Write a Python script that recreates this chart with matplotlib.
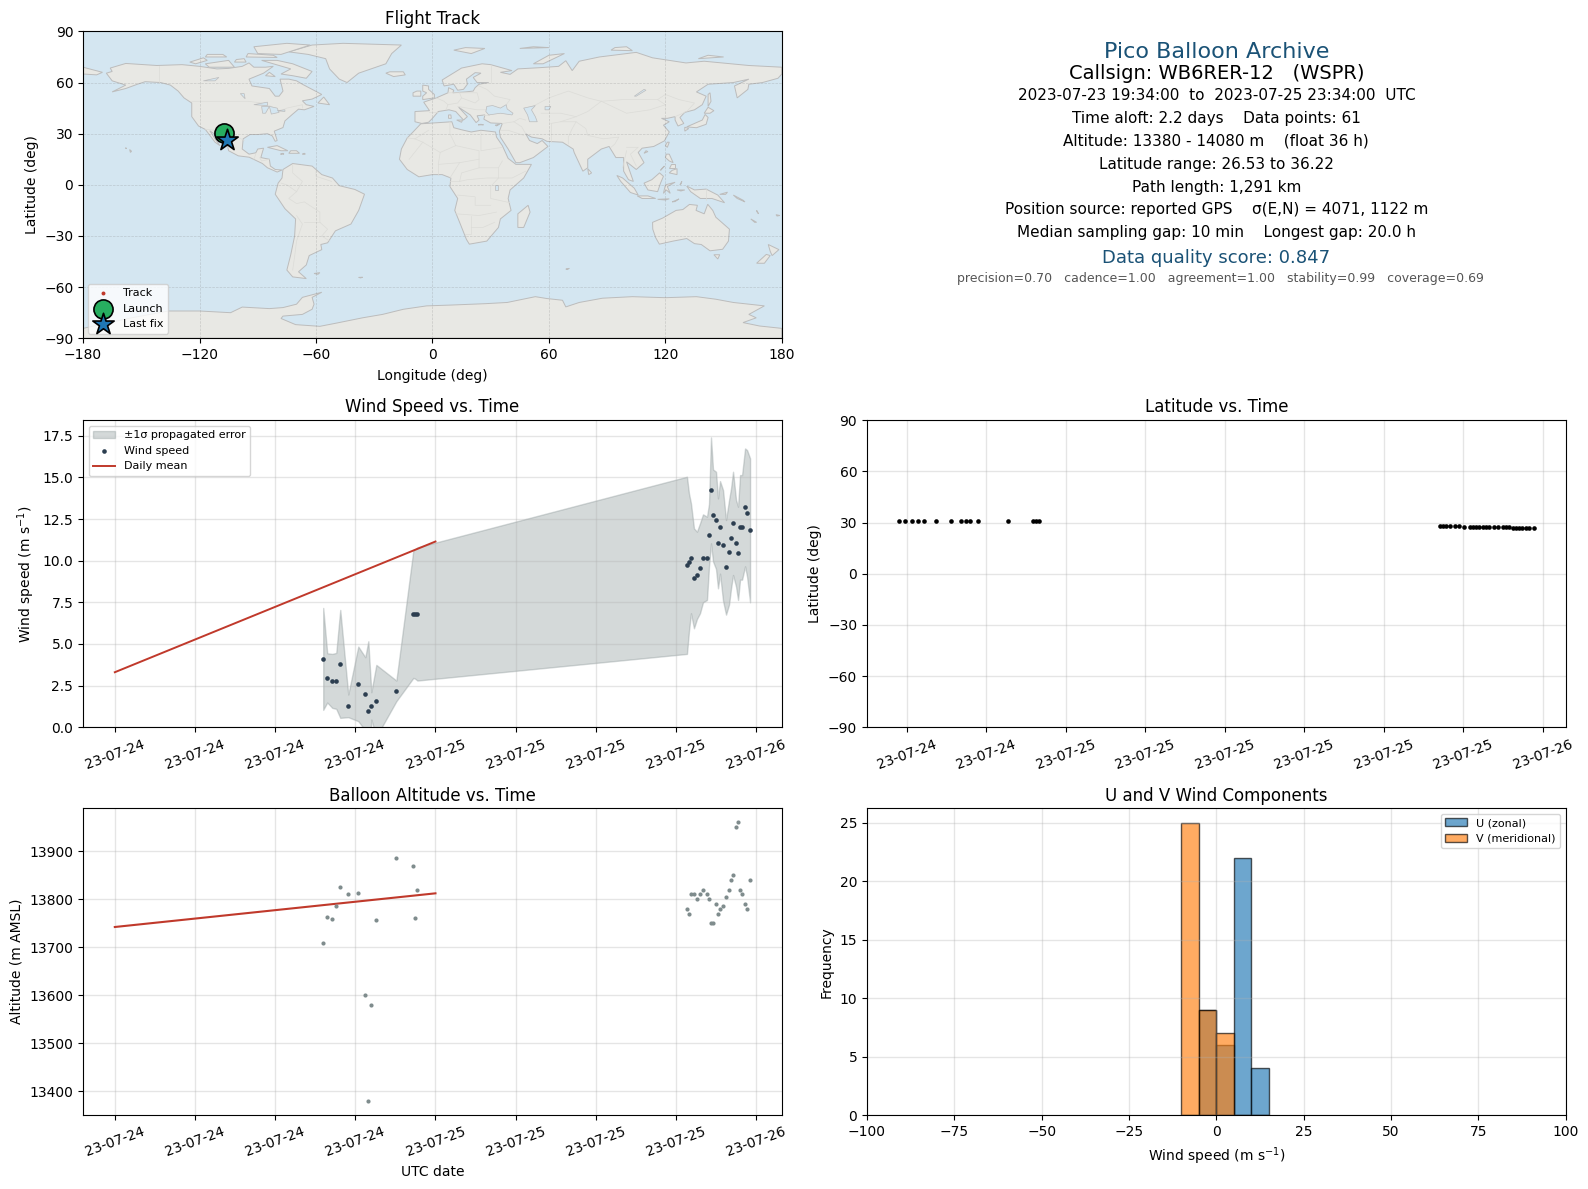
import matplotlib
matplotlib.use("Agg")
import matplotlib.pyplot as plt
import matplotlib.dates as mdates
import numpy as np
import pandas as pd
from matplotlib.patches import Polygon

# ---------- data ----------
HOURS_DAY1 = [15.6, 15.9, 16.275, 16.575, 16.875, 17.475, 18.225, 18.75, 18.975, 19.2, 19.575, 21.075, 22.35, 22.5, 22.65]
HOURS_DAY2 = [18.825, 18.975, 19.125, 19.35, 19.575, 19.8, 20.025, 20.325, 20.475, 20.625, 20.775, 21.0, 21.15, 21.3,
              21.525, 21.75, 21.975, 22.125, 22.275, 22.5, 22.65, 22.8, 22.95, 23.175, 23.325, 23.55]
WIND_1 = [4.1, 2.96, 2.78, 2.78, 3.8, 1.28, 2.6, 2.0, 0.98, 1.28, 1.58, 2.18, 6.8, 6.8, 6.8]
WIND_2 = [9.72, 9.9, 10.14, 8.94, 9.12, 9.54, 10.14, 10.14, 11.52, 14.22, 12.72, 12.42, 11.04, 12.0, 10.92, 9.6, 10.5,
          11.34, 12.24, 11.04, 10.44, 12.0, 12.0, 13.2, 12.84, 11.82]
SIGMA_1 = [3.06, 1.48, 1.62, 1.68, 3.24, 0.68, 2.24, 2.2, 4.18, 0.82, 2.16, 0.62, 3.84, 3.9, 4.0]
SIGMA_2 = [5.32, 4.14, 3.3, 3.0, 2.62, 2.7, 2.64, 2.5, 1.88, 3.18, 2.76, 2.92, 2.7, 2.78, 3.32, 2.84, 3.14, 3.0, 3.1,
           2.6, 2.8, 3.14, 3.14, 3.54, 3.8, 4.32]
ALT_1 = [13708, 13762, 13758, 13785, 13826, 13810, 13812, 13600, 13380, 13579, 13756, 13886, 13868, 13760, 13818]
ALT_2 = [13779, 13769, 13810, 13810, 13800, 13810, 13819, 13810, 13800, 13750, 13750, 13790, 13769, 13779, 13785, 13804,
         13819, 13840, 13850, 13950, 13960, 13819, 13810, 13790, 13779, 13840]
LAT_1 = [30.9, 30.9, 31.0, 30.9, 30.9, 30.9, 30.9, 30.9, 30.9, 30.9, 30.9, 30.9, 30.9, 30.9, 30.9]
LAT_2 = [28.2, 28.2, 28.2, 28.2, 28.2, 27.8, 27.7, 27.7, 27.7, 27.7, 27.7, 27.7, 27.7, 27.7, 27.7, 27.7, 27.7, 27.6,
         27.3, 27.0, 27.0, 27.0, 26.9, 26.9, 26.9, 26.9]
LON_1 = np.linspace(-107.8, -107.4, 15).tolist()
LON_2 = np.linspace(-107.2, -106.0, 26).tolist()
MEAN_DATES = ["2023-07-24 00:00", "2023-07-25 00:00"]
MEAN_WIND = [3.3, 11.15]
MEAN_ALT = [13742, 13812]
BIN_LEFT = [-10, -5, 0, 5, 10]
U_COUNTS = [0, 9, 6, 22, 4]
V_COUNTS = [25, 9, 7, 0, 0]
LAUNCH = (-107.6, 30.5)
LAST_FIX = (-106.0, 26.53)

INFO_LINES = [
    ("Pico Balloon Archive", 16, "#1a5276", 1201, 51),
    ("Callsign: WB6RER-12   (WSPR)", 14, "black", 1201, 72.5),
    ("2023-07-23 19:34:00  to  2023-07-25 23:34:00  UTC", 11, "black", 1201, 94),
    ("Time aloft: 2.2 days    Data points: 61", 11, "black", 1201, 117),
    ("Altitude: 13380 - 14080 m    (float 36 h)", 11, "black", 1201, 139),
    ("Latitude range: 26.53 to 36.22", 11, "black", 1201, 162),
    ("Path length: 1,291 km", 11, "black", 1201, 185),
    ("Position source: reported GPS    σ(E,N) = 4071, 1122 m", 11, "black", 1201, 207),
    ("Median sampling gap: 10 min    Longest gap: 20.0 h", 11, "black", 1201, 230),
    ("Data quality score: 0.847", 13, "#1a5276", 1201, 255),
    ("precision=0.70   cadence=1.00   agreement=1.00   stability=0.99   coverage=0.69", 9, "#555555", 1205, 275),
]

LAND = {
 "north_america": [(-168,65.5),(-165,66.5),(-166,68.5),(-158,71.2),(-142,70),(-129,70.5),(-120,69.5),(-111,68),(-105,68.3),(-98,69.5),(-94.5,71.5),(-92,69),(-86,69),(-82,69.5),(-87,65.5),(-94.5,62),(-93,58),(-84,56.5),(-81,52),(-79,52),(-77,55),(-78.5,62),(-74,62),(-70,61),(-67,59),(-62,56),(-57,53),(-62,50.3),(-67,49.3),(-65,47),(-61,46),(-66,44),(-69,44.4),(-72,41.5),(-76,37.5),(-77,33.6),(-81.5,31.5),(-80,26),(-81,25.5),(-82.5,28.7),(-85,30),(-90,29.5),(-94,29.5),(-97.5,27),(-98,21),(-94.5,18),(-91,18.8),(-90,21),(-87,21.5),(-88.4,16),(-84,15),(-83.5,11),(-81,9),(-77.5,8.7),(-80,7.5),(-85,10),(-87.6,12.5),(-94.4,16.2),(-100,17),(-105,20),(-105.5,22.5),(-109,26),(-112.5,30),(-114.7,31.7),(-112,27),(-109.5,23),(-112,25),(-115,29.5),(-117,32.5),(-120.5,34.5),(-124,40),(-124,48),(-128,51),(-131,55),(-135,58.5),(-140,60),(-148,60.5),(-152,59),(-158,56.5),(-165,54.5),(-158,58.5),(-165,61)],
 "south_america": [(-77,9),(-72,12.5),(-62,11),(-57,6),(-51.5,4),(-48,-0.5),(-40,-2.7),(-35,-5.5),(-38,-15),(-42,-23),(-50,-27),(-54,-34),(-57.5,-35),(-57,-38),(-63.5,-41.5),(-65,-47),(-69,-51),(-65,-55),(-72,-54),(-75,-50),(-73,-41),(-71,-30),(-70.5,-20),(-76,-14),(-81,-5.5),(-79.5,1),(-77.5,4)],
 "africa": [(-6,35.8),(10,37),(11,33.5),(15,32.3),(20,31),(25,32),(32.5,31),(33,28),(36,23),(39,15.5),(43,12),(51,12),(47,4),(40,-3),(39,-8),(40.5,-15),(35,-20),(34,-25),(28,-33),(19,-34.8),(17.5,-32),(14,-22),(11.5,-15),(13,-8),(9,-1),(9.5,4),(5,6),(0,6),(-7,4.7),(-13,9),(-17,15),(-16,21),(-13,27.5),(-10,31)],
 "eurasia": [(-9,37),(-9,43),(-1.5,43.5),(-4.5,48.5),(2,51),(8,54),(8.3,57),(11,55.5),(10.5,54),(17,54.5),(21,55),(22,57),(24,59),(29,60),(23,60),(21,63),(25,65.5),(22,65.8),(17.5,62),(18,59),(16,56),(13,55.5),(11,59),(6,58),(5,61.5),(15,68.5),(25.6,71),(30,70.5),(41,67),(35,66),(40,64.8),(44,68),(55,68.7),(65,69.5),(68.7,72.8),(72,67),(75.6,72.5),(86,75),(105,77.7),(113.4,74.5),(130.6,71.5),(140,72.5),(163,70),(180,69),(180,65),(178,62.5),(170,60),(163,59),(162.5,56),(157,51),(155.6,58),(163,62),(155,60),(142,59),(136,54.5),(141,52),(139,47),(135,44),(130,42.5),(127.5,39.5),(129.5,36),(126.5,34.5),(125,38),(125,40),(121,39),(118,39),(122,37),(119,35),(122,31),(119.5,25.8),(114,22.5),(108,21.5),(106,19),(109,13),(105,9),(100,13.5),(103.5,2),(101,3),(98.5,8),(98.5,16),(94.5,16),(91,22.5),(87,21),(80,15),(80,10),(77.5,8),(73,19),(72.5,21),(67,25),(59,25.5),(56.5,27),(51,28),(48,30),(50,26),(54,24.2),(56.5,26),(59.5,22.5),(52,16),(45,13),(43,13),(39,21),(35,28),(34.5,31.5),(36,36),(30,36.3),(26.5,38.5),(27,41),(23,40.5),(24,38),(22.5,36.5),(19.5,41),(13.5,45.5),(18,40),(16,38),(12,43),(8.5,44),(3,43),(0,39),(-2,36.7),(-5.5,36)],
 "australia": [(113.4,-22),(118.6,-19.5),(125.5,-15),(129,-14.5),(132.4,-11.5),(136.5,-12),(135.8,-15),(140,-17),(141.8,-11.4),(144.4,-15),(146,-19),(153,-26),(152.5,-33),(149.5,-37.8),(143,-38.7),(138.5,-35),(135,-34.5),(131,-31.5),(124,-33),(116.9,-34.8),(115,-31),(113.5,-26)],
 "greenland": [(-74,78),(-62,82),(-46,83),(-16,82),(-21,77),(-24,71),(-38,65.5),(-44,60),(-48,62),(-53,68),(-55,74),(-64,76.5)],
 "antarctica": [(-180,-84.2),(-155,-78),(-136,-74),(-120,-74),(-104,-75),(-98,-71.7),(-84,-72.6),(-77,-72),(-70,-70),(-67,-66),(-57,-63),(-62,-66),(-61,-70),(-62,-73),(-67,-76),(-77,-77),(-78,-78.4),(-70.5,-82),(-58,-83),(-49,-81),(-36,-78),(-25.7,-76),(-15,-73),(-3,-71),(10,-70.5),(27.4,-69.7),(38.5,-69),(53,-65.6),(59,-66.7),(67,-67.7),(68.7,-71.6),(75.6,-69),(87.6,-66.5),(103,-65.6),(120,-66.2),(136,-65.6),(146,-67.1),(155,-69),(171,-71),(163,-76),(166.8,-78),(160,-80.8),(168.5,-82.8),(180,-84.2),(180,-90),(-180,-90)],
 "madagascar": [(49.3,-12),(50.3,-16),(47,-25),(44,-25),(44,-17)],
 "uk": [(-5,50),(1,51),(1,53),(-2,56),(-2,58),(-5,58.5),(-5,55),(-3,54),(-5,52)],
 "ireland": [(-10,52),(-6,52),(-6,55),(-8,55),(-10,54)],
 "iceland": [(-24,65.5),(-20,63.5),(-14,64.5),(-15,66.3),(-22,66.3)],
 "honshu": [(131,34),(136,33.5),(141,35.5),(142,39.5),(140.5,41.3),(139,38),(134,35.5)],
 "hokkaido": [(140,42),(143,42),(145,43.5),(142,45.5)],
 "kyushu": [(130,31.5),(132,33),(130,33.8)],
 "sakhalin": [(142,46),(143.5,49),(143,54),(142,53)],
 "taiwan": [(120,23),(121,22),(122,25),(121,25)],
 "hainan": [(109,18.5),(111,19.5),(110,20)],
 "luzon": [(120,16),(122,14),(124,13),(122,18),(120.5,18)],
 "visayas": [(122,10),(125,10),(125,12),(123,12)],
 "mindanao": [(122,7),(126,6),(126,9.5),(123.5,8.5)],
 "palawan": [(117.5,8.5),(119.5,11),(119,10.5)],
 "sumatra": [(95,5.5),(98,4),(104,-2),(106,-6),(102,-4.5),(97,2)],
 "java": [(105.5,-6.5),(111,-6.5),(115,-8),(108,-8)],
 "timor": [(123.5,-10),(127,-8.3),(125,-9.8)],
 "flores": [(116,-8.5),(122,-8.2),(120,-8.9)],
 "borneo": [(109,1),(113,3),(117,7),(119,5),(117.5,1),(116,-4),(111,-3)],
 "sulawesi": [(119,-5),(120,0),(125,1.5),(121,-1),(122.5,-5),(120.5,-3)],
 "halmahera": [(127.5,0),(128.5,2),(128,0.5)],
 "seram": [(126,-3),(130,-3),(128,-3.6)],
 "new_guinea": [(131,-0.7),(135,-3),(141,-2.5),(147,-6),(150.5,-10.5),(144,-8),(138,-8),(133,-4)],
 "new_britain": [(148,-5.6),(152,-4.3),(151,-5.6)],
 "solomons": [(155,-6),(160,-9),(161,-10),(157,-8)],
 "vanuatu": [(167,-15),(168,-17),(167.3,-16)],
 "new_caledonia": [(164,-20),(167,-22),(166,-22)],
 "fiji": [(177,-17.5),(179,-18),(177.5,-18.3)],
 "nz_north": [(173,-35),(178.5,-38),(175,-41.5),(174,-39)],
 "nz_south": [(167,-46),(171,-46),(174,-41.5),(172,-40.8)],
 "sri_lanka": [(80,9.5),(82,7),(80.5,6)],
 "cuba": [(-85,22),(-80,23),(-74.5,20),(-78,20)],
 "hispaniola": [(-74,18.5),(-68.5,18.5),(-70,20),(-73,20)],
 "puerto_rico": [(-67,18),(-65.5,18),(-66,18.5)],
 "jamaica": [(-78.3,18),(-76.5,18),(-77,18.5)],
 "newfoundland": [(-59,48),(-53,47),(-56,51.5)],
 "baffin": [(-80,73),(-72,71),(-62,66.5),(-65,62.5),(-72,64),(-78,65),(-73,68),(-88,73)],
 "victoria": [(-117,71),(-105,73),(-102,69),(-115,69)],
 "banks": [(-125,72),(-118,74.5),(-116,73),(-122,71)],
 "melville": [(-117,75),(-106,75),(-108,76.5),(-116,76.5)],
 "prince_of_wales": [(-102,72),(-96,72),(-97,74),(-101,73.5)],
 "southampton": [(-86,64),(-81,63.5),(-84,66)],
 "ellesmere": [(-90,77),(-78,76.5),(-63,82),(-75,83),(-92,81)],
 "devon": [(-96,75),(-80,74.7),(-82,76),(-95,77)],
 "svalbard": [(11,79),(20,77),(27,80),(17,80.5)],
 "franz_josef": [(45,80),(60,80.5),(52,81)],
 "novaya_zemlya": [(52,71),(57,71),(68,77),(60,76)],
 "severnaya": [(92,79),(103,78.7),(100,81),(94,80.5)],
 "new_siberian": [(137,74),(150,75),(142,76)],
 "tasmania": [(145,-41),(148,-41),(147,-43.5)],
 "chukotka": [(-180,69),(-170,66),(-173,64.5),(-180,65)],
 "sicily": [(12.5,38),(15.5,38),(15,36.7)],
 "sardinia": [(8.3,39),(9.7,39),(9.5,41),(8.3,41)],
 "crete": [(23.5,35.2),(26.3,35.2),(25,35.5)],
 "cyprus": [(32.3,35),(34.5,35.5),(33,34.6)],
 "hawaii": [(-156,20.7),(-155,19.7),(-155.6,19)],
 "oahu": [(-158.2,21.5),(-157.6,21.3),(-157.9,21.7)],
 "falkland": [(-61,-52),(-58,-51.5),(-59,-52.5)],
 "south_georgia": [(-38,-54.3),(-36,-54.2),(-37,-54.6)],
 "kerguelen": [(68.7,-49.4),(70.5,-49),(69.5,-49.7)],
}
WATER = {
 "black_sea": [(28,46),(31,46.5),(35,45),(38,47),(38.5,44.5),(41.5,42),(41,41),(35,42),(29,41),(27.5,43)],
 "caspian": [(47,45),(53,46.5),(51,44),(53,40),(54,37),(50,37),(49,41)],
 "superior": [(-92,47),(-85,48.5),(-85,46.5)],
 "michigan": [(-88,46),(-84,46),(-86,42),(-87.5,42)],
 "huron_erie": [(-84,46),(-80,45),(-79,42.5),(-83,41.5)],
 "ontario": [(-80,43.5),(-76,44),(-76,43)],
 "winnipeg": [(-99,53.5),(-97,53.5),(-96.5,50.5)],
 "great_slave": [(-118,61),(-110,63),(-112,61)],
 "victoria_lake": [(32,0),(34,0),(34,-3),(32,-3)],
 "aral": [(58,46),(61,46),(60,44),(58,44)],
 "baikal": [(104,52),(105,52),(110,55.5),(109,56)],
}
BORDERS = [
 [(-141,69.7),(-141,60)], [(-124,49),(-95,49),(-88,48),(-83,46),(-79,43),(-75,45),(-67,47),(-67,45)],
 [(-117,32.5),(-106,31.5),(-97,26)], [(-92,15),(-91,18)], [(-89,16),(-88,14),(-84,15)], [(-72,12),(-72,7),(-67,2),(-70,-4),(-74,-8),(-70,-11),(-66,-10),(-58,-16),(-58,-22),(-54,-26),(-57,-30),(-53,-33)],
 [(-60,8),(-60,5),(-52,2)], [(-78,1),(-75,0),(-70,-4)], [(-70,-18),(-67,-23),(-70,-33),(-71,-42),(-72,-50)], [(-66,-22),(-58,-22)],
 [(-2,43),(3,43)], [(2,51),(6,49),(8,47),(7,44)], [(8,54),(14,54),(15,51),(13,48),(8,47)], [(14,54),(23,54),(24,50),(22,48),(15,51)], [(13,46),(23,44),(28,44)], [(24,58),(28,56),(32,52),(40,50),(38,47)],
 [(30,60),(30,70)], [(29,41),(26,41)], [(36,36),(42,37),(45,39),(48,38)], [(42,37),(46,34),(48,30)], [(35,32),(39,32),(47,29)], [(61,36),(61,25)], [(61,36),(66,37),(74,37),(72,33),(70,28),(70,24)], [(74,37),(79,33),(80,29),(88,27),(96,28),(94,24),(92,22)],
 [(50,45),(60,51),(70,55),(80,51),(87,49),(98,50),(106,50),(116,50),(120,53),(127,50),(135,48),(131,43)], [(87,49),(80,43),(74,40),(66,37)], [(87,49),(100,42),(112,44),(120,47),(116,50)], [(56,42),(66,42),(74,40)], [(100,20),(98,10)], [(100,22),(106,22),(102,18),(105,11)], [(125,40),(130,42.5)],
 [(-9,27),(-13,27.5)], [(-9,27),(-2,32)], [(9,37),(9,30),(12,23),(4,19),(-5,25),(-9,27)], [(25,31.5),(25,20),(36,22)], [(12,23),(24,20),(24,10),(34,10),(36,14)], [(-5,25),(-12,15)], [(4,19),(3,12),(14,13),(24,15)], [(3,12),(3,6)], [(14,13),(9,4)], [(24,10),(15,7),(14,2),(9,2)], [(34,10),(34,4),(41,4),(48,8)], [(34,4),(30,-1),(30,-8),(40,-10.5)], [(14,2),(18,3),(28,4),(34,4)], [(13,-6),(22,-7),(22,-12),(30,-12)], [(12,-17),(24,-18),(33,-16)], [(20,-18),(20,-29),(17,-29)], [(20,-25),(26,-25),(32,-22)],
 [(141,-2.5),(141,-9)],
]

# ---------- layout ----------
W_REF, H_REF = 1568.0, 1174.0
def axes_box(x0, x1, y0, y1):
    return [x0 / W_REF, 1 - y1 / H_REF, (x1 - x0) / W_REF, (y1 - y0) / H_REF]

fig = plt.figure(figsize=(15.88, 11.89), dpi=100)
ax_map = fig.add_axes(axes_box(82, 772, 31, 334))
ax_wind = fig.add_axes(axes_box(82, 772, 415, 718))
ax_lat = fig.add_axes(axes_box(856, 1546, 415, 718))
ax_alt = fig.add_axes(axes_box(82, 772, 798, 1101))
ax_hist = fig.add_axes(axes_box(856, 1546, 798, 1101))

t0 = pd.Timestamp("2023-07-24 00:00")
times = [t0 + pd.Timedelta(hours=h) for h in HOURS_DAY1] + [t0 + pd.Timedelta(hours=24 + h) for h in HOURS_DAY2]
wind = np.array(WIND_1 + WIND_2)
sigma = np.array(SIGMA_1 + SIGMA_2)
alt = np.array(ALT_1 + ALT_2)
lat = np.array(LAT_1 + LAT_2)
lon = np.array(LON_1 + LON_2)
mean_t = pd.to_datetime(MEAN_DATES)

NAVY, GREY, RED = "#2c3e50", "#7f8c8d", "#c0392b"
TITLE_PAD = 5.4
GRID = dict(color="#b0b0b0", alpha=0.32, lw=1.0)

# ---------- map ----------
ax_map.set_facecolor("#d4e6f1")
for pts in LAND.values():
    ax_map.add_patch(Polygon(pts, closed=True, facecolor="#e8e8e4", edgecolor="#bcbcbc", lw=0.7, zorder=1))
for pts in BORDERS:
    arr = np.array(pts)
    ax_map.plot(arr[:, 0], arr[:, 1], color="#dcdcd8", lw=0.5, zorder=1.2)
for pts in WATER.values():
    ax_map.add_patch(Polygon(pts, closed=True, facecolor="#d4e6f1", edgecolor="#bcbcbc", lw=0.5, zorder=1.3))
ax_map.grid(True, ls="--", lw=0.5, color="gray", alpha=0.3, zorder=1.5)
ax_map.scatter(lon, lat, s=8, linewidths=0, color=RED, zorder=3, label="Track")
ax_map.scatter(*LAUNCH, s=190, color="#27ae60", edgecolor="black", linewidth=1.2, zorder=4, label="Launch")
ax_map.scatter(*LAST_FIX, s=260, marker="*", color="#1f77b4", edgecolor="black", linewidth=1.2, zorder=5, label="Last fix")
ax_map.set_xlim(-180, 180)
ax_map.set_ylim(-90, 90)
ax_map.set_xticks(range(-180, 181, 60))
ax_map.set_yticks(range(-90, 91, 30))
ax_map.set_xlabel("Longitude (deg)", labelpad=4.7)
ax_map.set_ylabel("Latitude (deg)")
ax_map.set_title("Flight Track", pad=TITLE_PAD)
ax_map.legend(loc="lower left", fontsize=8, borderaxespad=0.42)

# ---------- info ----------
for text, size, color, x, y in INFO_LINES:
    fig.text(x / W_REF, 1 - y / H_REF, text, fontsize=size, color=color, ha="center", va="center")

def style_time(ax, hours):
    ax.xaxis.set_major_locator(mdates.HourLocator(byhour=range(0, 24, hours)))
    ax.xaxis.set_major_formatter(mdates.DateFormatter("%y-%m-%d"))
    ax.tick_params(axis="x", labelrotation=20)
    ax.grid(True, **GRID)

# ---------- wind ----------
ax_wind.fill_between(times, wind - sigma, wind + sigma, color=GREY, alpha=0.33, label="±1σ propagated error")
ax_wind.scatter(times, wind, s=11, linewidths=0, color=NAVY, zorder=3, label="Wind speed")
ax_wind.plot(mean_t, MEAN_WIND, color=RED, lw=1.4, label="Daily mean")
ax_wind.autoscale_view()
ax_wind.set_ylim(bottom=0)
ax_wind.set_yticks(np.arange(0, 18, 2.5))
ax_wind.set_ylabel("Wind speed (m s$^{-1}$)")
ax_wind.set_title("Wind Speed vs. Time", pad=6.3)
ax_wind.legend(loc="upper left", fontsize=8)
style_time(ax_wind, 6)

# ---------- latitude ----------
ax_lat.scatter(times, lat, s=11, linewidths=0, color="black", zorder=3)
ax_lat.set_ylim(-90, 90)
ax_lat.set_yticks(range(-90, 91, 30))
ax_lat.set_ylabel("Latitude (deg)")
ax_lat.set_title("Latitude vs. Time", pad=6.3)
style_time(ax_lat, 4)

# ---------- altitude ----------
ax_alt.scatter(times, alt, s=9, linewidths=0, color=GREY, zorder=3)
ax_alt.plot(mean_t, MEAN_ALT, color=RED, lw=1.5)
ax_alt.set_xlabel("UTC date", labelpad=4.0)
ax_alt.set_ylabel("Altitude (m AMSL)")
ax_alt.set_title("Balloon Altitude vs. Time", pad=TITLE_PAD)
style_time(ax_alt, 6)

# ---------- histogram ----------
ax_hist.bar(BIN_LEFT, U_COUNTS, width=5, align="edge", color="#1f77b4", edgecolor="black", alpha=0.65, label="U (zonal)")
ax_hist.bar(BIN_LEFT, V_COUNTS, width=5, align="edge", color="#ff7f0e", edgecolor="black", alpha=0.65, label="V (meridional)")
ax_hist.set_xlim(-100, 100)
ax_hist.set_xticks(range(-100, 101, 25))
ax_hist.set_xlabel("Wind speed (m s$^{-1}$)", labelpad=4.5)
ax_hist.set_ylabel("Frequency")
ax_hist.set_title("U and V Wind Components", pad=TITLE_PAD)
ax_hist.grid(True, **GRID)
ax_hist.legend(loc="upper right", fontsize=8)

fig.savefig("out.png", dpi=100)
